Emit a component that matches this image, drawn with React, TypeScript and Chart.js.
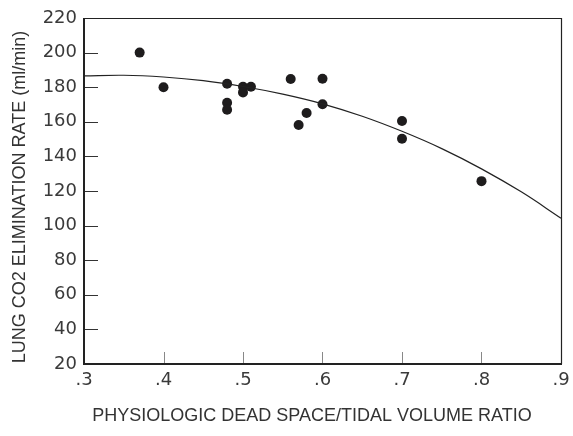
import React, { useEffect, useRef } from 'react';
import { Chart, registerables } from 'chart.js';

Chart.register(...registerables);

// Measured points: physiologic dead space / tidal volume ratio vs lung CO2 elimination rate
const deadSpaceRatio = [0.37, 0.40, 0.48, 0.48, 0.48, 0.50, 0.50, 0.51, 0.56, 0.57, 0.58, 0.60, 0.60, 0.70, 0.70, 0.80];
const co2Rate = [200, 180, 182, 171, 167, 180.3, 177, 180.3, 184.7, 158.2, 165.1, 184.9, 170.1, 160.5, 150.2, 125.7];

// Fitted curve
const fitRatio = [0.30, 0.35, 0.40, 0.45, 0.50, 0.55, 0.60, 0.65, 0.70, 0.75, 0.80, 0.85, 0.90];
const fitRate = [186.5, 186.9, 185.9, 183.8, 180.4, 176.0, 170.4, 163.2, 154.5, 144.5, 132.8, 119.5, 104.3];

const xTickValues = [0.3, 0.4, 0.5, 0.6, 0.7, 0.8, 0.9];
const yTickValues = [20, 40, 60, 80, 100, 120, 140, 160, 180, 200, 220];

const xTitle = 'PHYSIOLOGIC DEAD SPACE/TIDAL VOLUME RATIO';
const yTitle = 'LUNG CO2 ELIMINATION RATE (ml/min)';

const framePlugin = {
  id: 'frame',
  afterDraw(chart: any) {
    const { ctx, chartArea } = chart;
    const xs = chart.scales.x;
    const ys = chart.scales.y;
    const { left, right, top, bottom } = chartArea;
    ctx.save();
    // inward y ticks
    ctx.strokeStyle = '#333';
    ctx.lineWidth = 1;
    yTickValues.slice(1, -1).forEach((v) => {
      const y = Math.round(ys.getPixelForValue(v)) + 0.5;
      ctx.beginPath();
      ctx.moveTo(left, y);
      ctx.lineTo(left + 14, y);
      ctx.stroke();
    });
    // inward x ticks
    ctx.strokeStyle = '#888';
    xTickValues.slice(1, -1).forEach((v) => {
      const x = Math.round(xs.getPixelForValue(v)) + 0.5;
      ctx.beginPath();
      ctx.moveTo(x, bottom);
      ctx.lineTo(x, bottom - 12);
      ctx.stroke();
    });
    // thin top and right
    ctx.strokeStyle = '#222';
    ctx.lineWidth = 1.2;
    ctx.beginPath();
    ctx.moveTo(left, top + 0.5);
    ctx.lineTo(right + 0.5, top + 0.5);
    ctx.lineTo(right + 0.5, bottom);
    ctx.stroke();
    // thick left and bottom
    ctx.lineWidth = 2;
    ctx.beginPath();
    ctx.moveTo(left, top);
    ctx.lineTo(left, bottom);
    ctx.lineTo(right + 1, bottom);
    ctx.stroke();

    // axis titles
    ctx.fillStyle = '#333';
    ctx.font = '18px "Liberation Sans"';
    ctx.textAlign = 'center';
    ctx.textBaseline = 'middle';
    ctx.fillText(xTitle, 312, 416);
    ctx.translate(20, 197);
    ctx.rotate(-Math.PI / 2);
    ctx.fillText(yTitle, 0, 0);
    ctx.restore();
  },
};

export default function App() {
  const ref = useRef<HTMLCanvasElement | null>(null);

  useEffect(() => {
    document.body.style.margin = '0';
    const canvas = ref.current;
    if (!canvas) return;
    const chart = new Chart(canvas, {
      type: 'scatter',
      data: {
        datasets: [
          {
            label: 'fit',
            data: fitRatio.map((x, i) => ({ x, y: fitRate[i] })),
            showLine: true,
            borderColor: '#222',
            borderWidth: 1.2,
            pointRadius: 0,
            tension: 0.4,
            fill: false,
          },
          {
            label: 'data',
            data: deadSpaceRatio.map((x, i) => ({ x, y: co2Rate[i] })),
            backgroundColor: '#1e1c1d',
            borderColor: '#1e1c1d',
            borderWidth: 0,
            pointRadius: 5,
          },
        ],
      },
      options: {
        responsive: false,
        animation: false,
        layout: { padding: { left: 0, right: 12, top: 18, bottom: 0 } },
        plugins: { legend: { display: false }, tooltip: { enabled: false } },
        scales: {
          x: {
            type: 'linear',
            min: 0.3,
            max: 0.9,
            afterBuildTicks: (s: any) => {
              s.ticks = xTickValues.map((v) => ({ value: v }));
            },
            afterFit: (s: any) => {
              s.height = 436 - 364;
              s.paddingLeft = 0;
              s.paddingRight = 0;
            },
            grid: { display: false, drawTicks: false },
            border: { display: false },
            ticks: {
              padding: 6,
              color: '#3a3a3a',
              font: { family: 'DejaVu Sans', size: 18 },
              callback: (v: any) => Number(v).toFixed(1).replace(/^0/, ''),
            },
            title: { display: false },
          },
          y: {
            type: 'linear',
            min: 20,
            max: 220,
            afterBuildTicks: (s: any) => {
              s.ticks = yTickValues.map((v) => ({ value: v }));
            },
            afterFit: (s: any) => {
              s.width = 84;
              s.paddingTop = 0;
              s.paddingBottom = 0;
            },
            grid: { display: false, drawTicks: false },
            border: { display: false },
            ticks: {
              padding: 7,
              color: '#3a3a3a',
              font: { family: 'DejaVu Sans', size: 18 },
            },
            title: { display: false },
          },
        },
      },
      plugins: [framePlugin],
    });
    return () => chart.destroy();
  }, []);

  return <canvas ref={ref} width={573} height={436} style={{ display: 'block' }} />;
}
